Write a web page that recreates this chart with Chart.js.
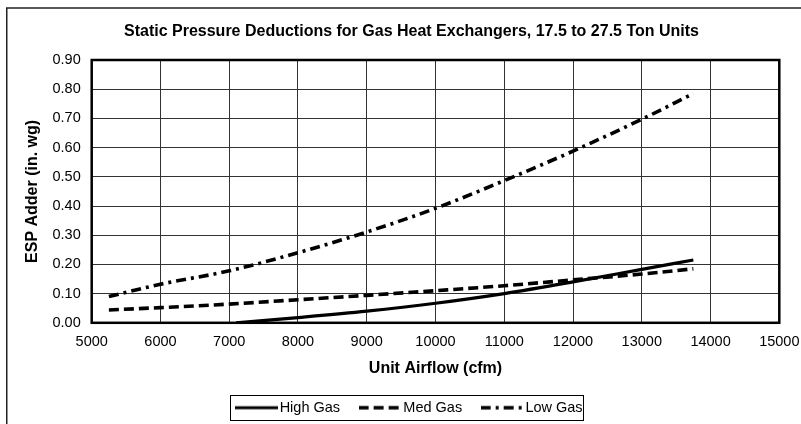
<!DOCTYPE html>
<html>
<head>
<meta charset="utf-8">
<script src="https://cdn.jsdelivr.net/npm/chart.js@4/dist/chart.umd.min.js"></script>
<style>
  html, body { margin: 0; padding: 0; background: #fff; }
  #wrap { width: 801px; height: 424px; position: relative; }
</style>
</head>
<body>
<div id="wrap"><canvas id="chart"></canvas></div>
<script>
// Airflow points shared by the Med and Low gas curves (cfm)
const airflowCfm = [5250, 6000, 7000, 8000, 9000, 10000, 11000, 12000, 13000, 13750];
const medGasEsp  = [0.044, 0.052, 0.064, 0.079, 0.094, 0.110, 0.127, 0.147, 0.167, 0.185];
const lowGasEsp  = [0.090, 0.132, 0.178, 0.240, 0.311, 0.392, 0.487, 0.588, 0.697, 0.785];

// High gas deduction only begins above ~7100 cfm
const highGasCfm = [7100, 8000, 9000, 10000, 11000, 12000, 13000, 13750];
const highGasEsp = [0.000, 0.018, 0.040, 0.067, 0.100, 0.140, 0.183, 0.215];

const seriesNames = ['High Gas', 'Med Gas', 'Low Gas'];
const xTicks = [5000, 6000, 7000, 8000, 9000, 10000, 11000, 12000, 13000, 14000, 15000];
const yTicks = [0, 0.1, 0.2, 0.3, 0.4, 0.5, 0.6, 0.7, 0.8, 0.9];

const pairs = (xs, ys) => xs.map((x, i) => ({ x, y: ys[i] }));

const lineStyles = [
  { width: 3.2, dash: [] },
  { width: 3.6, dash: [10, 5] },
  { width: 3.6, dash: [10, 5, 3, 5] }
];

// Little line swatches for the legend, drawn a bit wider than the layout box
function swatch(style) {
  const c = document.createElement('canvas');
  c.width = 43; c.height = 8;
  const g = c.getContext('2d');
  g.strokeStyle = '#000';
  g.lineWidth = style.width;
  g.setLineDash(style.dash);
  g.beginPath();
  g.moveTo(0, 4);
  g.lineTo(43, 4);
  g.stroke();
  return c;
}
const swatches = lineStyles.map(swatch);

Chart.defaults.font.family = '"Liberation Sans", Arial, sans-serif';
Chart.defaults.color = '#000';

const framePlugin = {
  id: 'frame',
  beforeDraw(chart) {
    const ctx = chart.ctx;
    ctx.save();
    ctx.fillStyle = '#fff';
    ctx.fillRect(0, 0, chart.width, chart.height);
    ctx.restore();
  },
  afterDraw(chart) {
    const ctx = chart.ctx;
    const a = chart.chartArea;
    ctx.save();
    // outer sheet edges (top and left)
    ctx.strokeStyle = '#222';
    ctx.lineWidth = 1.5;
    ctx.beginPath();
    ctx.moveTo(6.75, chart.height);
    ctx.lineTo(6.75, 8);
    ctx.lineTo(chart.width, 8);
    ctx.stroke();
    // plot area frame
    ctx.strokeStyle = '#000';
    ctx.lineWidth = 2.5;
    ctx.strokeRect(a.left, a.top, a.right - a.left, a.bottom - a.top);
    // legend box
    const hb = chart.legend && chart.legend.legendHitBoxes;
    if (hb && hb.length) {
      const left = hb[0].left - 10;
      const last = hb[hb.length - 1];
      const right = last.left + last.width + 1;
      const cy = hb[0].top + hb[0].height / 2;
      ctx.lineWidth = 1;
      ctx.strokeStyle = '#000';
      ctx.strokeRect(Math.round(left) + 0.5, Math.round(cy - 12.5) + 0.5,
                     Math.round(right - left), 25);
    }
    ctx.restore();
  }
};

new Chart(document.getElementById('chart'), {
  type: 'line',
  data: {
    datasets: [
      { label: seriesNames[0], data: pairs(highGasCfm, highGasEsp) },
      { label: seriesNames[1], data: pairs(airflowCfm, medGasEsp) },
      { label: seriesNames[2], data: pairs(airflowCfm, lowGasEsp) }
    ].map((d, i) => Object.assign(d, {
      borderColor: '#000',
      backgroundColor: '#000',
      borderWidth: lineStyles[i].width,
      borderDash: lineStyles[i].dash,
      borderCapStyle: 'butt',
      pointRadius: 0,
      pointHoverRadius: 0,
      fill: false,
      tension: 0.4,
      cubicInterpolationMode: 'monotone'
    }))
  },
  options: {
    responsive: true,
    maintainAspectRatio: false,
    animation: false,
    devicePixelRatio: 1,
    layout: { padding: { left: 22, right: 0, top: 0, bottom: -1 } },
    plugins: {
      title: {
        display: true,
        text: 'Static Pressure Deductions for Gas Heat Exchangers, 17.5 to 27.5 Ton Units',
        font: { size: 16, weight: 'bold' },
        color: '#000',
        padding: { top: 22.4, bottom: 18.4 }
      },
      legend: {
        position: 'bottom',
        labels: {
          usePointStyle: true,
          pointStyleWidth: 32,
          padding: 24,
          color: '#000',
          font: { size: 14.5 },
          generateLabels(chart) {
            const items = Chart.defaults.plugins.legend.labels.generateLabels(chart);
            items.forEach((it, i) => { it.pointStyle = swatches[i]; });
            return items;
          }
        }
      },
      tooltip: { enabled: false }
    },
    scales: {
      x: {
        type: 'linear',
        min: xTicks[0],
        max: xTicks[xTicks.length - 1],
        afterBuildTicks(scale) { scale.ticks = xTicks.map(v => ({ value: v })); },
        afterFit(scale) {
          scale.height = 53.7;
          scale.paddingLeft = 0;
          scale.paddingRight = 21.7;
        },
        grid: { color: '#333', lineWidth: 1, drawTicks: false },
        border: { display: false },
        ticks: {
          autoSkip: false,
          maxRotation: 0,
          padding: 10,
          color: '#000',
          font: { size: 14.5 },
          callback: v => String(v)
        },
        title: {
          display: true,
          text: 'Unit Airflow (cfm)',
          color: '#000',
          font: { size: 16, weight: 'bold' },
          padding: { top: 0, bottom: -1.5 }
        }
      },
      y: {
        type: 'linear',
        min: yTicks[0],
        max: yTicks[yTicks.length - 1],
        afterBuildTicks(scale) { scale.ticks = yTicks.map(v => ({ value: v })); },
        afterFit(scale) {
          scale.width = 69.7;
          scale.paddingTop = 0;
          scale.paddingBottom = 0;
        },
        grid: { color: '#333', lineWidth: 1, drawTicks: false },
        border: { display: false },
        ticks: {
          padding: 11,
          color: '#000',
          font: { size: 14.5 },
          callback: v => Number(v).toFixed(2)
        },
        title: {
          display: true,
          text: 'ESP Adder (in. wg)',
          color: '#000',
          font: { size: 16, weight: 'bold' },
          padding: { top: 0.5, bottom: 0 }
        }
      }
    }
  },
  plugins: [framePlugin]
});
</script>
</body>
</html>
